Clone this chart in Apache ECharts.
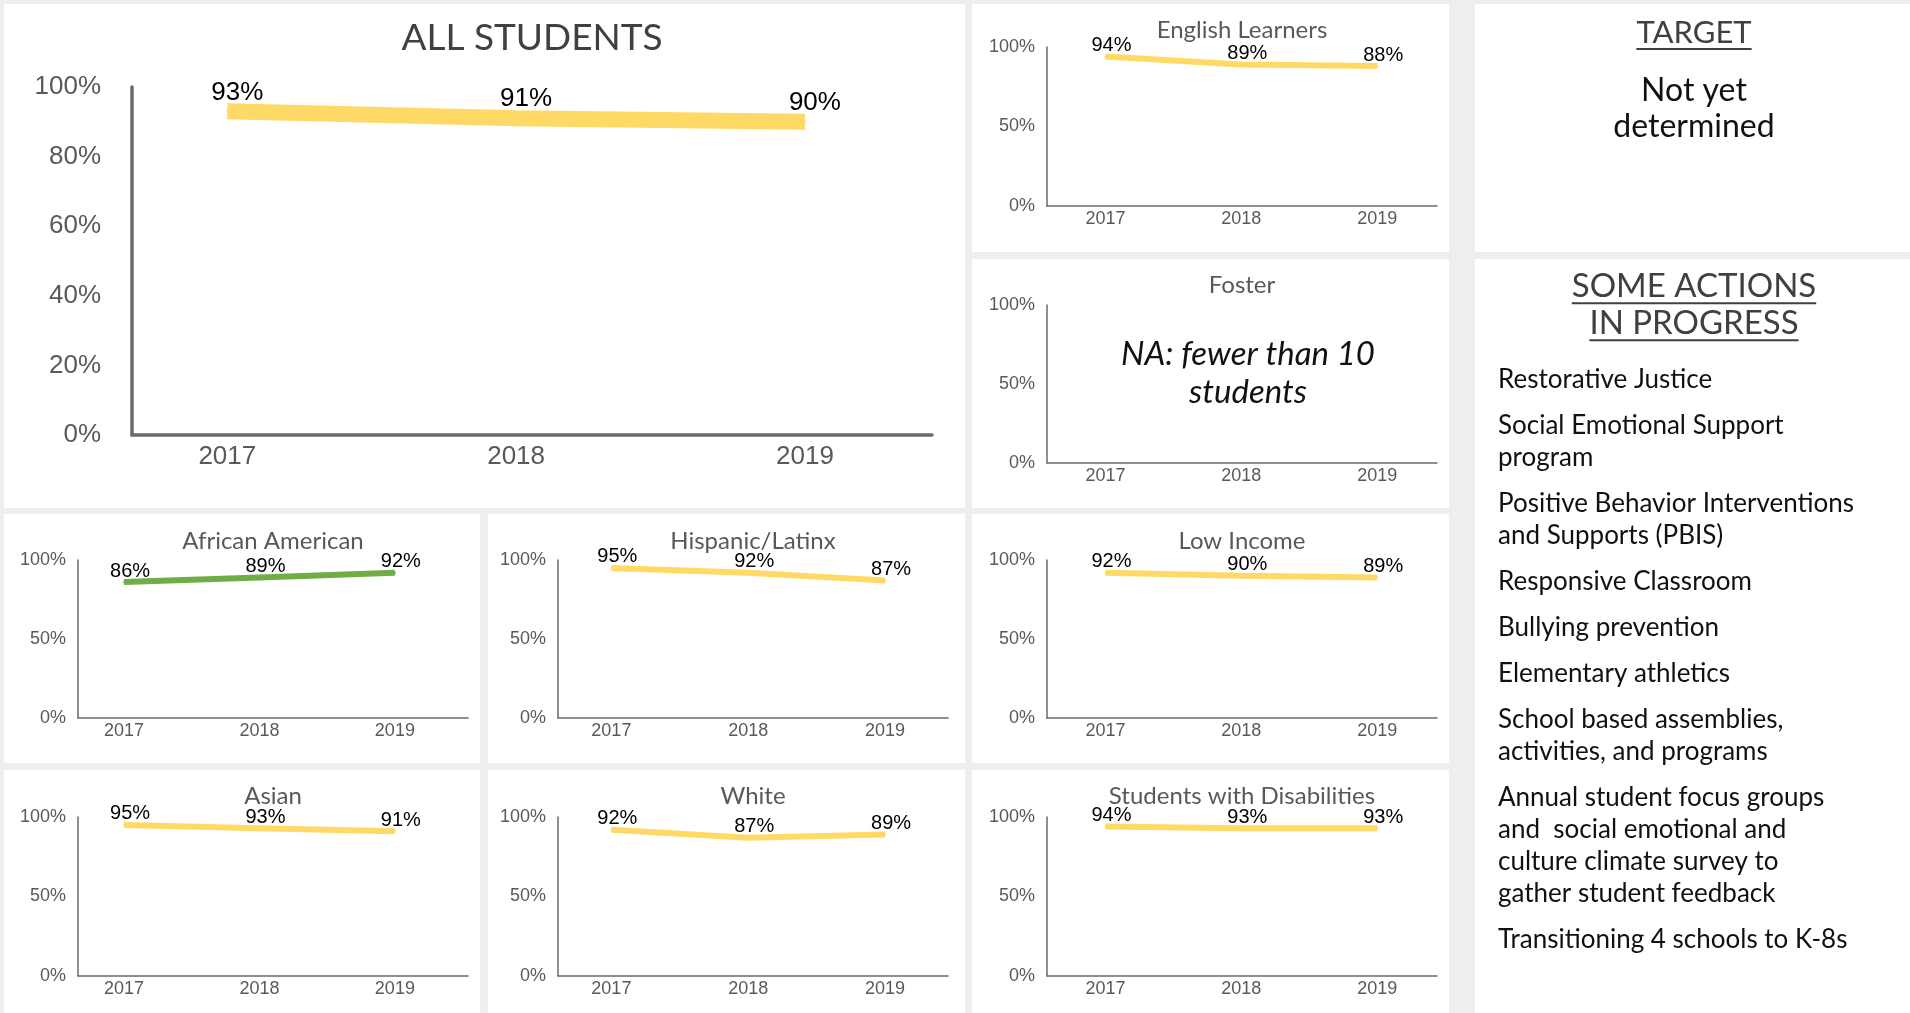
<!DOCTYPE html>
<html>
<head>
<meta charset="utf-8">
<title>Attendance rate dashboard</title>
<script src="https://cdn.jsdelivr.net/npm/echarts@6/dist/echarts.min.js"></script>
<style>
  html, body { margin: 0; padding: 0; background: #eeeeee; }
  #main { width: 1910px; height: 1013px; }
</style>
</head>
<body>
<div id="main"></div>
<script>
// ---- data ----
const years = [2017, 2018, 2019];
const allStudents = [93, 91, 90];
const englishLearners = [94, 89, 88];
const africanAmerican = [86, 89, 92];
const hispanicLatinx = [95, 92, 87];
const lowIncome = [92, 90, 89];
const asian = [95, 93, 91];
const white = [92, 87, 89];
const disabilities = [94, 93, 93];
const fosterNote = ['NA: fewer than 10', 'students'];
const targetText = ['Not yet', 'determined'];
const actionsTitle = ['SOME ACTIONS', 'IN PROGRESS'];
const actions = [
  ['Restorative Justice'],
  ['Social Emotional Support', 'program'],
  ['Positive Behavior Interventions', 'and Supports (PBIS)'],
  ['Responsive Classroom'],
  ['Bullying prevention'],
  ['Elementary athletics'],
  ['School based assemblies,', 'activities, and programs'],
  ['Annual student focus groups', 'and  social emotional and', 'culture climate survey to', 'gather student feedback'],
  ['Transitioning 4 schools to K-8s']
];

// ---- styling ----
const YELLOW = '#FFD966';
const GREEN = '#70AD47';
const AXIS = '#6b6b6b';
const TICK_TEXT = '#595959';
const SANS = 'Lato';
const NUM = 'Liberation Sans';

// white tiles: [x, y, w, h]
const tiles = [
  [4, 4, 961, 504], [972, 4, 477, 248], [972, 259, 477, 249],
  [4, 514, 476, 249], [488, 514, 477, 249], [972, 514, 477, 249],
  [4, 770, 476, 243], [488, 770, 477, 243], [972, 770, 477, 243],
  [1475, 4, 435, 248], [1475, 259, 435, 754]
];

// chart frames: plot left/right/top/bottom in px, x range in years
const COL1 = { left: 78, right: 468, xMin: 2016.66, xMax: 2019.54 };
const COL2 = { left: 558, right: 948, xMin: 2016.61, xMax: 2019.46 };
const COL3 = { left: 1047, right: 1437, xMin: 2016.57, xMax: 2019.44 };
const ROW1 = { top: 47, bottom: 206, titleY: 30 };
const ROW2 = { top: 305, bottom: 463, titleY: 285 };
const ROW3 = { top: 560, bottom: 718, titleY: 541 };
const ROW4 = { top: 817, bottom: 976, titleY: 796 };

const charts = [
  { name: 'ALL STUDENTS', values: allStudents, color: YELLOW, big: true,
    frame: { left: 132, right: 932, top: 87, bottom: 435, xMin: 2016.67, xMax: 2019.44, titleY: 38 } },
  { name: 'English Learners', values: englishLearners, color: YELLOW, frame: Object.assign({}, COL3, ROW1) },
  { name: 'Foster', values: null, frame: Object.assign({}, COL3, ROW2) },
  { name: 'African American', values: africanAmerican, color: GREEN, frame: Object.assign({}, COL1, ROW3) },
  { name: 'Hispanic/Latinx', values: hispanicLatinx, color: YELLOW, frame: Object.assign({}, COL2, ROW3) },
  { name: 'Low Income', values: lowIncome, color: YELLOW, frame: Object.assign({}, COL3, ROW3) },
  { name: 'Asian', values: asian, color: YELLOW, frame: Object.assign({}, COL1, ROW4) },
  { name: 'White', values: white, color: YELLOW, frame: Object.assign({}, COL2, ROW4) },
  { name: 'Students with Disabilities', values: disabilities, color: YELLOW, frame: Object.assign({}, COL3, ROW4) }
];

const grids = [], xAxes = [], yAxes = [], series = [], graphics = [];

tiles.forEach(t => graphics.push({
  type: 'rect', z: -10, silent: true,
  shape: { x: t[0], y: t[1], width: t[2], height: t[3] },
  style: { fill: '#ffffff' }
}));

charts.forEach((c, i) => {
  const f = c.frame;
  const big = !!c.big;
  grids.push({ left: f.left, top: f.top, width: f.right - f.left, height: f.bottom - f.top, containLabel: false });
  xAxes.push({
    type: 'value', gridIndex: i, min: f.xMin, max: f.xMax,
    axisLine: { show: true, onZero: false, lineStyle: { color: AXIS, width: big ? 3.5 : 1.5 } },
    axisTick: { show: false },
    splitLine: { show: false },
    axisLabel: {
      customValues: years,
      formatter: v => String(Math.round(v)),
      color: TICK_TEXT, fontFamily: NUM, fontSize: big ? 26 : 18, margin: big ? 9 : 4
    }
  });
  yAxes.push({
    type: 'value', gridIndex: i, min: 0, max: 100, interval: big ? 20 : 50,
    axisLine: { show: true, lineStyle: { color: AXIS, width: big ? 3.5 : 1.5 } },
    axisTick: { show: false },
    splitLine: { show: false },
    axisLabel: {
      formatter: '{value}%',
      color: TICK_TEXT, fontFamily: NUM, fontSize: big ? 26 : 18, margin: big ? 31 : 12
    }
  });
  // chart title
  graphics.push({
    type: 'text', z: 10, silent: true,
    x: big ? 532 : (f.left + f.right) / 2, y: f.titleY,
    style: {
      text: c.name, fill: big ? '#404040' : '#595959',
      fontFamily: SANS, fontSize: big ? 37 : 24,
      textAlign: 'center', textVerticalAlign: 'middle'
    }
  });
  if (c.values) {
    series.push({
      type: 'line', xAxisIndex: i, yAxisIndex: i, silent: true,
      data: years.map((y, k) => [y, c.values[k]]),
      symbol: 'circle', symbolSize: 2,
      itemStyle: { color: c.color },
      lineStyle: { color: c.color, width: big ? 16 : 6, cap: 'butt' },
      label: {
        show: true, position: 'top', distance: big ? 5 : 0,
        offset: big ? [10, 0] : [6, 0],
        formatter: p => p.value[1] + '%',
        color: '#000000', fontFamily: NUM, fontSize: big ? 26 : 20
      }
    });
  }
});

// Foster: not reported
fosterNote.forEach((t, k) => graphics.push({
  type: 'text', z: 10, silent: true, x: 1248, y: 354 + k * 38,
  style: { text: t, fill: '#111111', fontFamily: SANS, fontStyle: 'italic', fontSize: 33,
           textAlign: 'center', textVerticalAlign: 'middle' }
}));

// underlined heading helper
const measure = document.createElement('canvas').getContext('2d');
function heading(text, cx, cy, size) {
  measure.font = size + 'px ' + SANS;
  const w = measure.measureText(text).width;
  graphics.push({
    type: 'text', z: 10, silent: true, x: cx, y: cy,
    style: { text: text, fill: '#404040', fontFamily: SANS, fontSize: size,
             textAlign: 'center', textVerticalAlign: 'middle' }
  });
  graphics.push({
    type: 'line', z: 10, silent: true,
    shape: { x1: cx - w / 2, y1: cy + size * 0.52, x2: cx + w / 2, y2: cy + size * 0.52 },
    style: { stroke: '#404040', lineWidth: 2 }
  });
}

heading('TARGET', 1694, 33, 31);
targetText.forEach((t, k) => graphics.push({
  type: 'text', z: 10, silent: true, x: 1694, y: 91 + k * 36,
  style: { text: t, fill: '#111111', fontFamily: SANS, fontSize: 32,
           textAlign: 'center', textVerticalAlign: 'middle' }
}));

actionsTitle.forEach((t, k) => heading(t, 1694, 286 + k * 37, 33));

let ay = 380;
actions.forEach(item => {
  item.forEach(line => {
    graphics.push({
      type: 'text', z: 10, silent: true, x: 1498, y: ay,
      style: { text: line, fill: '#111111', fontFamily: SANS, fontSize: 26,
               textAlign: 'left', textVerticalAlign: 'middle' }
    });
    ay += 32;
  });
  ay += 14;
});

const chart = echarts.init(document.getElementById('main'), null, { renderer: 'canvas' });
chart.setOption({
  backgroundColor: '#eeeeee',
  animation: false,
  grid: grids,
  xAxis: xAxes,
  yAxis: yAxes,
  series: series,
  graphic: { elements: graphics }
});
</script>
</body>
</html>
